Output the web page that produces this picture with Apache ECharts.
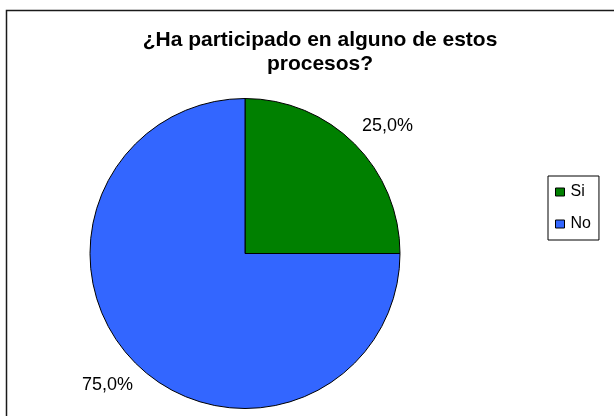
<!DOCTYPE html>
<html>
<head>
<meta charset="utf-8">
<title>¿Ha participado en alguno de estos procesos?</title>
<script src="https://cdn.jsdelivr.net/npm/echarts@6/dist/echarts.min.js"></script>
<style>
  html, body { margin: 0; padding: 0; background: #fff; }
  #chart { width: 614px; height: 416px; }
</style>
</head>
<body>
<div id="chart"></div>
<script>
// datos del gráfico
const categories = ['Si', 'No']
const values = [25.0, 75.0]
const colors = ['#008000', '#3366FF']

const chart = echarts.init(document.getElementById('chart'))

const pieData = categories.map((name, i) => ({
  name: name,
  value: values[i],
  itemStyle: { color: colors[i] },
}))

// pequeño ajuste de las etiquetas, como las coloca Excel
const labelShift = [
  [6, 9],
  [-1, -5],
]

const option = {
  animation: false,
  textStyle: { fontFamily: 'Liberation Sans, Arial, sans-serif' },
  graphic: [
    {
      // marco del gráfico
      type: 'rect',
      shape: { x: 6.5, y: 10.5, width: 640, height: 440 },
      style: { fill: 'none', stroke: '#1a1a1a', lineWidth: 1.5 },
      silent: true,
      z: -1,
    },
  ],
  title: {
    text: '¿Ha participado en alguno de estos\nprocesos?',
    left: 315,
    top: 23,
    textAlign: 'center',
    textStyle: {
      fontFamily: 'Liberation Sans, Arial, sans-serif',
      fontSize: 21,
      fontWeight: 'bold',
      color: '#000',
      lineHeight: 24,
    },
  },
  legend: {
    orient: 'vertical',
    left: 548,
    top: 176,
    width: 50,
    data: categories,
    icon: 'rect',
    itemWidth: 9,
    itemHeight: 8,
    itemGap: 16,
    padding: [8, 8, 8, 7],
    borderColor: '#000',
    borderWidth: 1,
    itemStyle: { borderColor: '#000', borderWidth: 1 },
    textStyle: {
      fontFamily: 'Liberation Sans, Arial, sans-serif',
      fontSize: 16,
      color: '#000',
      padding: [0, 0, 0, 1],
    },
    selectedMode: false,
  },
  series: [
    {
      type: 'pie',
      center: [245, 253.5],
      radius: 155,
      startAngle: 90,
      clockwise: true,
      silent: true,
      data: pieData,
      itemStyle: { borderColor: '#000', borderWidth: 1 },
      label: {
        show: true,
        position: 'outside',
        formatter: (p) => p.value.toFixed(1).replace('.', ',') + '%',
        fontFamily: 'Liberation Sans, Arial, sans-serif',
        fontSize: 18,
        color: '#000',
      },
      labelLine: { show: false, length: 38, length2: 0 },
      labelLayout: (params) => {
        const pts = params.labelLinePoints
        if (!pts) return {}
        const s = labelShift[params.dataIndex] || [0, 0]
        return {
          x: pts[1][0] + s[0],
          y: pts[1][1] + s[1],
          align: 'center',
          verticalAlign: 'middle',
        }
      },
    },
  ],
}

chart.setOption(option)
</script>
</body>
</html>
